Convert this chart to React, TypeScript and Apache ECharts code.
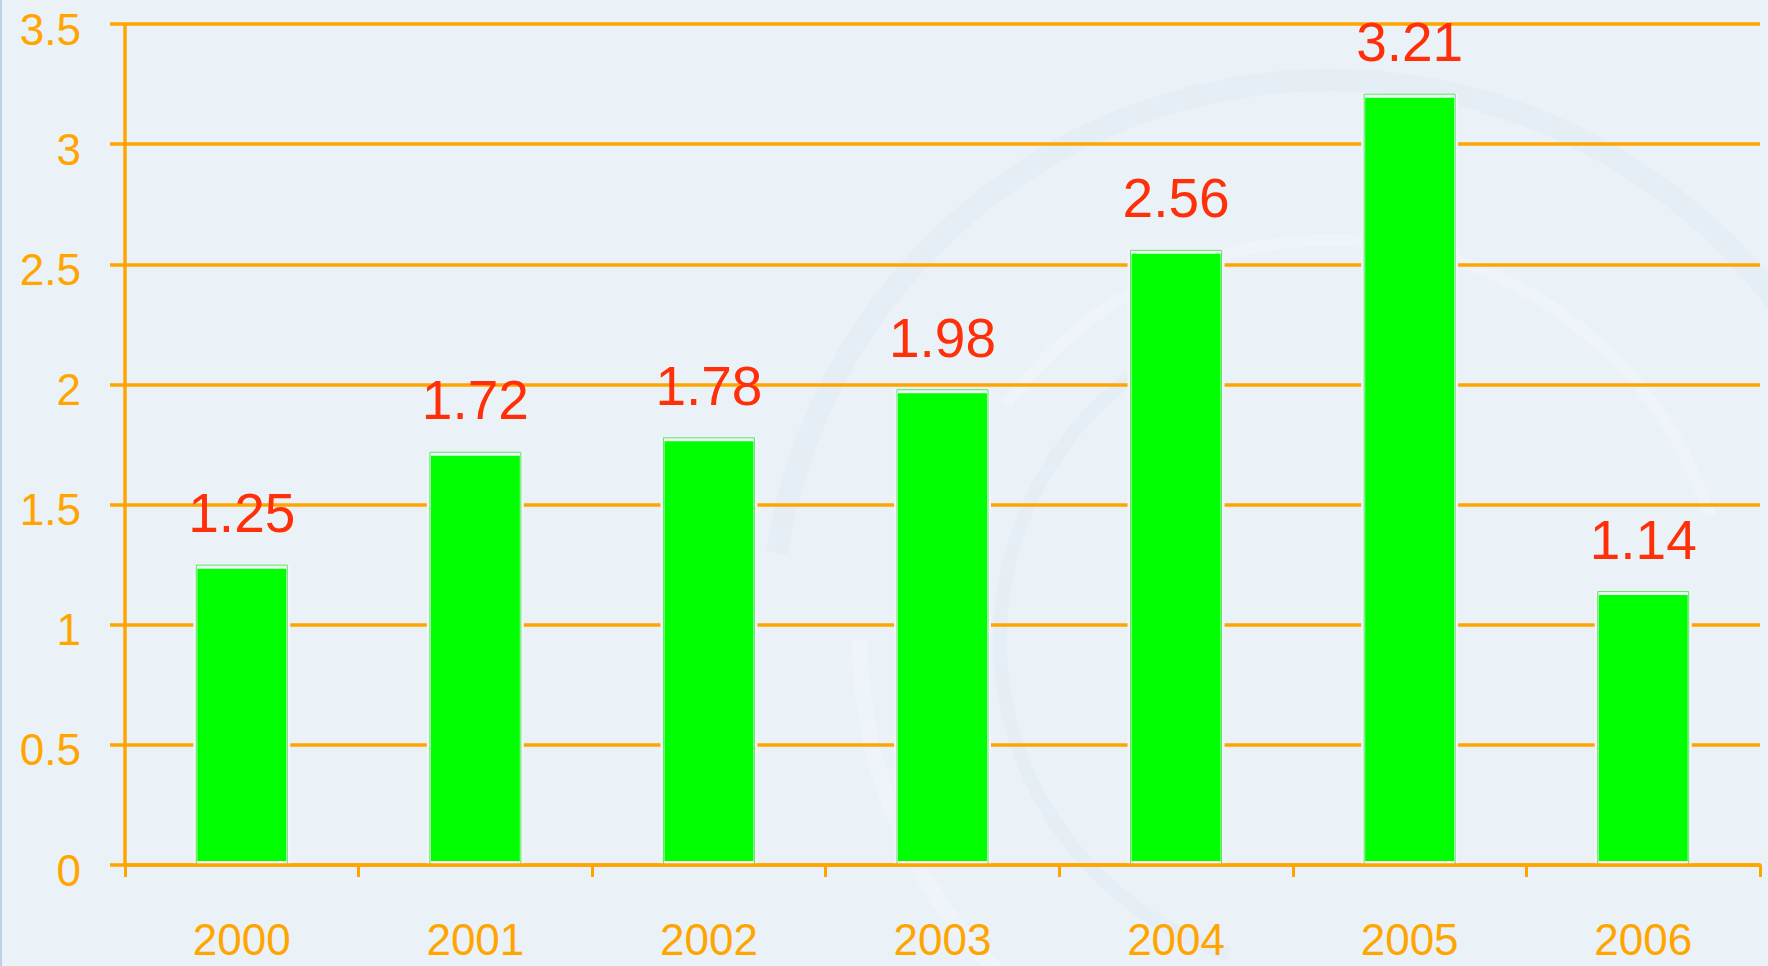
import React, { useEffect, useRef } from "react";
import * as echarts from "echarts";

const years = ["2000", "2001", "2002", "2003", "2004", "2005", "2006"];
const values = [1.25, 1.72, 1.78, 1.98, 2.56, 3.21, 1.14];
const yMin = 0;
const yMax = 3.5;
const yStep = 0.5;

const ORANGE = "#ffa500";
const BG = "#eaf2f7";
const HALO = "#eff5f9";
const FONT = "'Liberation Sans', Arial, sans-serif";

export default function App() {
  const ref = useRef<HTMLDivElement>(null);

  useEffect(() => {
    document.body.style.margin = "0";
    const chart = echarts.init(ref.current!, null, { renderer: "svg" });
    chart.setOption({
      animation: false,
      backgroundColor: BG,
      graphic: [
        { type: "rect", left: 0, top: 0, shape: { width: 2, height: 966 }, style: { fill: "#b8d2ea" }, silent: true, z: -10 },
        { type: "arc", shape: { cx: 1330, cy: 640, r: 560, startAngle: Math.PI * 1.05, endAngle: Math.PI * 1.95 }, style: { stroke: "#e5edf5", lineWidth: 22, fill: "none" }, silent: true, z: -10 },
        { type: "arc", shape: { cx: 1330, cy: 640, r: 470, startAngle: Math.PI * 0.6, endAngle: Math.PI * 1.0 }, style: { stroke: "#eef4f9", lineWidth: 16, fill: "none" }, silent: true, z: -10 },
        { type: "arc", shape: { cx: 1330, cy: 640, r: 400, startAngle: Math.PI * 1.2, endAngle: Math.PI * 1.9 }, style: { stroke: "#eef4f9", lineWidth: 12, fill: "none" }, silent: true, z: -10 },
        { type: "arc", shape: { cx: 1330, cy: 640, r: 330, startAngle: Math.PI * 0.6, endAngle: Math.PI * 1.3 }, style: { stroke: "#e6eef5", lineWidth: 14, fill: "none" }, silent: true, z: -10 },
      ],
      grid: { left: 125, right: 8, top: 24, bottom: 101, containLabel: false },
      xAxis: [
        {
          type: "category",
          data: years,
          boundaryGap: true,
          axisLine: { show: true, lineStyle: { color: ORANGE, width: 3.5 } },
          axisTick: { show: true, length: 12, lineStyle: { color: ORANGE, width: 3 } },
          axisLabel: { color: ORANGE, fontSize: 44, fontFamily: FONT, margin: 52, interval: 0 },
          splitLine: { show: false },
          z: 5,
        },
        {
          type: "category",
          data: years,
          boundaryGap: true,
          show: false,
        },
      ],
      yAxis: {
        type: "value",
        min: yMin,
        max: yMax,
        interval: yStep,
        axisLine: { show: true, lineStyle: { color: ORANGE, width: 3.5 } },
        axisTick: { show: true, length: 15, lineStyle: { color: ORANGE, width: 3.5 } },
        axisLabel: { color: ORANGE, fontSize: 44, fontFamily: FONT, margin: 44, verticalAlign: "top", lineHeight: 10 },
        splitLine: { show: true, lineStyle: { color: ORANGE, width: 3.5 } },
      },
      series: [
        {
          type: "bar",
          xAxisIndex: 1,
          data: values,
          barWidth: 97,
          itemStyle: { color: "#00ff00", borderColor: HALO, borderWidth: 4 },
          z: 2,
        },
        {
          type: "bar",
          xAxisIndex: 0,
          data: values,
          barWidth: 92,
          itemStyle: { color: "rgba(0,0,0,0)", borderColor: "#5ce65c", borderWidth: 1 },
          label: {
            show: true,
            position: "top",
            distance: 24,
            color: "#ff2f0a",
            fontSize: 55,
            fontFamily: FONT,
            formatter: (p: any) => String(p.value),
          },
          z: 3,
        },
      ],
    });
    return () => chart.dispose();
  }, []);

  return <div ref={ref} style={{ width: 1768, height: 966 }} />;
}
